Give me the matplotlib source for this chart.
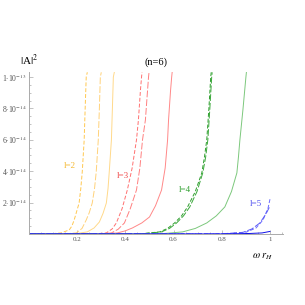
import matplotlib
matplotlib.use("Agg")
from matplotlib import pyplot as plt
from matplotlib.ticker import MultipleLocator, FixedLocator
import numpy as np

plt.rcParams['font.family'] = ['Liberation Serif', 'DejaVu Serif']
plt.rcParams['mathtext.fontset'] = 'stix'

# omega r_H values and |A|^2 (in units of 1e-14)
l2_w = [[0, 0.083, 0.133, 0.167, 0.178, 0.1875, 0.208, 0.215, 0.221, 0.229, 0.233, 0.2375, 0.242],
        [0, 0.146, 0.196, 0.22, 0.2375, 0.25, 0.2625, 0.272, 0.279, 0.2875, 0.292, 0.296, 0.300],
        [0, 0.1875, 0.242, 0.27, 0.292, 0.307, 0.321, 0.328, 0.333, 0.342, 0.346, 0.350, 0.354]]
l2_a = [[0, 0, 0.064, 0.255, 0.5, 0.89, 1.97, 2.9, 3.95, 5.99, 7.96, 10.0, 10.3],
        [0, 0, 0.064, 0.35, 0.89, 1.35, 1.97, 2.9, 3.95, 5.99, 7.96, 10.0, 10.3],
        [0, 0, 0.13, 0.38, 0.76, 1.3, 1.97, 2.9, 3.95, 5.99, 7.96, 10.0, 10.3]]

l3_w = [[0, 0.271, 0.321, 0.345, 0.3625, 0.386, 0.408, 0.428, 0.446, 0.454, 0.4625, 0.467, 0.469],
        [0, 0.292, 0.342, 0.37, 0.396, 0.42, 0.446, 0.46, 0.471, 0.483, 0.492, 0.496, 0.498],
        [0, 0.3125, 0.367, 0.4, 0.429, 0.468, 0.5, 0.525, 0.55, 0.565, 0.575, 0.579, 0.5875, 0.592, 0.594]]
l3_a = [[0, 0, 0.064, 0.32, 0.70, 1.6, 2.80, 4.2, 5.99, 7.26, 9.17, 10.0, 10.3],
        [0, 0, 0.064, 0.3, 0.70, 1.6, 2.80, 4.2, 5.99, 7.26, 9.17, 10.0, 10.3],
        [0, 0, 0.064, 0.2, 0.38, 0.7, 1.08, 1.8, 2.80, 4.2, 5.99, 7.26, 9.17, 10.0, 10.3]]

l4_w = [[0, 0.458, 0.542, 0.575, 0.604, 0.633, 0.658, 0.69, 0.717, 0.728, 0.7375, 0.746, 0.754, 0.756],
        [0, 0.467, 0.55, 0.583, 0.6125, 0.641, 0.667, 0.697, 0.721, 0.733, 0.742, 0.75, 0.758, 0.760],
        [0, 0.542, 0.6375, 0.69, 0.7375, 0.777, 0.8125, 0.84, 0.8625, 0.869, 0.875, 0.8875, 0.9, 0.902]]
l4_a = [[0, 0, 0.13, 0.35, 0.70, 1.15, 1.72, 2.7, 3.89, 4.9, 5.99, 7.90, 10.0, 10.3],
        [0, 0, 0.13, 0.35, 0.70, 1.15, 1.72, 2.7, 3.89, 4.9, 5.99, 7.90, 10.0, 10.3],
        [0, 0, 0.13, 0.35, 0.70, 1.15, 1.72, 2.7, 3.89, 4.9, 5.99, 7.90, 10.0, 10.3]]

l5_w = [[0, 0.771, 0.846, 0.904, 0.942, 0.971, 0.992, 1.0],
        [0, 0.792, 0.8875, 0.925, 0.958, 0.983, 1.0],
        [0, 0.8125, 0.917, 0.967, 1.0]]
l5_a = [[0, 0, 0.03, 0.13, 0.38, 0.89, 1.66, 2.23],
        [0, 0, 0.10, 0.32, 0.70, 1.27, 1.78],
        [0, 0, 0.03, 0.064, 0.16]]

labels = ['l=2', 'l=3', 'l=4', 'l=5']
label_pos = [(0.17, 4.3), (0.39, 3.7), (0.645, 2.8), (0.94, 1.9)]

fig = plt.figure(figsize=(3.05, 3.05), dpi=100)
ax = fig.add_axes([0.095, 0.233, 0.833, 0.531])

styles = [(0, (4, 2)), (0, (7, 2)), '-']
groups = [
    (l2_w, l2_a, ['#FFC850', '#FFD27A', '#FFD98A'], '#F5B830'),
    (l3_w, l3_a, ['#FF7070', '#FF8080', '#FF8888'], '#F04848'),
    (l4_w, l4_a, ['#2E9E2E', '#3AA83A', '#7CC87C'], '#30A030'),
    (l5_w, l5_a, ['#6A6AFF', '#5A5AF5', '#1010E8'], '#5050F0'),
]
for (ws, As, cols, lc), lab, (lx, ly) in zip(groups, labels, label_pos):
    for w, a, c, ls in zip(ws, As, cols, styles):
        ax.plot(w, np.array(a) * 1e-14, color=c, lw=0.7, ls=ls)
    ax.text(lx, ly * 1e-14, lab, color=lc, fontsize=6.5, ha='center', va='center')

ax.set_xlim(0, 1.054)
ax.set_ylim(0, 1.032e-13)

for s in ['top', 'right']:
    ax.spines[s].set_visible(False)
for s in ['left', 'bottom']:
    ax.spines[s].set_color('#aaaaaa')
    ax.spines[s].set_linewidth(0.7)

ax.xaxis.set_major_locator(FixedLocator([0.2, 0.4, 0.6, 0.8, 1.0]))
ax.set_xticklabels(['0.2', '0.4', '0.6', '0.8', '1'])
ax.xaxis.set_minor_locator(MultipleLocator(0.05))
ax.yaxis.set_major_locator(FixedLocator([2e-14, 4e-14, 6e-14, 8e-14, 1e-13]))
ax.set_yticklabels([r'2$\cdot$10$^{-14}$', r'4$\cdot$10$^{-14}$', r'6$\cdot$10$^{-14}$',
                    r'8$\cdot$10$^{-14}$', r'1$\cdot$10$^{-13}$'])
ax.yaxis.set_minor_locator(MultipleLocator(0.5e-14))
ax.tick_params(which='both', direction='in', color='#aaaaaa', width=0.5,
               labelcolor='#555555', pad=2)
ax.tick_params(axis='x', labelsize=5)
ax.tick_params(axis='y', labelsize=5.6, pad=1.5)
ax.tick_params(which='major', length=3)
ax.tick_params(which='minor', length=1.5)

ax.text(0.5, 1.03, '(n=6)', transform=ax.transAxes, ha='center', va='bottom', fontsize=7.5)
ax.text(0.0, 1.025, r'$|$A$|^2$', transform=ax.transAxes, ha='center', va='bottom', fontsize=8)
ax.text(0.92, -0.14, r'$\omega\ r_H$', transform=ax.transAxes, ha='center', va='center', fontsize=7.5)

fig.savefig('out.png', dpi=100)
